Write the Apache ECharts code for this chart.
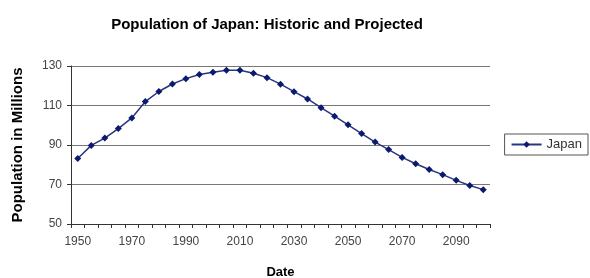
<!DOCTYPE html>
<html>
<head>
<meta charset="utf-8">
<script src="https://cdn.jsdelivr.net/npm/echarts@6/dist/echarts.min.js"></script>
<style>
  html, body { margin: 0; padding: 0; background: #fff; }
  #chart { width: 590px; height: 278px; }
</style>
</head>
<body>
<div id="chart"></div>
<script>
// years 1950..2100, every 5 years
const years = ['1950', '1955', '1960', '1965', '1970', '1975', '1980', '1985', '1990', '1995',
  '2000', '2005', '2010', '2015', '2020', '2025', '2030', '2035', '2040', '2045',
  '2050', '2055', '2060', '2065', '2070', '2075', '2080', '2085', '2090', '2095', '2100']
const japan = [83.2, 89.8, 93.5, 98.3, 103.7, 112.0, 117.1, 120.9, 123.6, 125.7,
  126.8, 127.8, 127.8, 126.3, 124.1, 120.8, 117.0, 113.3, 108.9, 104.6,
  100.2, 95.8, 91.5, 87.7, 83.7, 80.5, 77.6, 75.0, 72.1, 69.5, 67.4]
const yTicks = [50, 70, 90, 110, 130]

const chart = echarts.init(document.getElementById('chart'))
const font = 'Liberation Sans, Arial, sans-serif'
chart.setOption({
  animation: false,
  title: {
    text: 'Population of Japan: Historic and Projected',
    left: 262,
    textAlign: 'center',
    top: 12,
    textStyle: { fontFamily: font, fontSize: 15, fontWeight: 'bold', color: '#000' }
  },
  legend: {
    data: ['Japan'],
    right: 2,
    top: 134,
    orient: 'vertical',
    borderColor: '#555',
    borderWidth: 1,
    padding: [4, 6, 4, 6],
    itemWidth: 30,
    itemHeight: 8,
    itemGap: 4,
    textStyle: { fontFamily: font, fontSize: 13, color: '#333' }
  },
  grid: { left: 71, right: 100, top: 66, bottom: 54, outerBoundsMode: 'none' },
  xAxis: {
    type: 'category',
    data: years,
    boundaryGap: true,
    name: 'Date',
    nameLocation: 'middle',
    nameGap: 42,
    nameTextStyle: { fontFamily: font, fontSize: 13, fontWeight: 'bold', color: '#000' },
    axisLine: { lineStyle: { color: '#333' } },
    axisTick: { show: true, interval: 0, length: 4, lineStyle: { color: '#333' } },
    axisLabel: { interval: 3, fontFamily: font, fontSize: 12, color: '#444', margin: 12 }
  },
  yAxis: {
    type: 'value',
    min: yTicks[0],
    max: yTicks[yTicks.length - 1],
    interval: 20,
    name: 'Population in Millions',
    nameLocation: 'middle',
    nameGap: 46,
    nameTextStyle: { fontFamily: font, fontSize: 15, fontWeight: 'bold', color: '#000' },
    axisLine: { show: true, lineStyle: { color: '#333' } },
    axisTick: { show: true, length: 4, lineStyle: { color: '#333' } },
    axisLabel: { fontFamily: font, fontSize: 12, color: '#444', margin: 9 },
    splitLine: { lineStyle: { color: '#777', width: 1 } }
  },
  series: [
    {
      name: 'Japan',
      type: 'line',
      data: japan,
      symbol: 'diamond',
      symbolSize: 7,
      itemStyle: { color: '#0a1a6e' },
      lineStyle: { color: '#2a3580', width: 1.5 }
    }
  ]
})
</script>
</body>
</html>
